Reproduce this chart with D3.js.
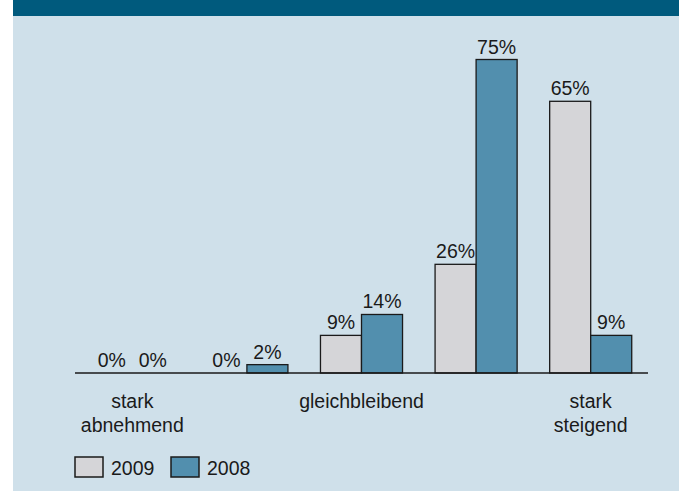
<!DOCTYPE html>
<html>
<head>
<meta charset="utf-8">
<script src="https://cdn.jsdelivr.net/npm/d3@7"></script>
<style>
  html, body { margin: 0; padding: 0; background: #ffffff; }
  svg { display: block; }
  text { font-family: "Liberation Sans", Arial, sans-serif; fill: #1a1a1a; }
</style>
</head>
<body>
<script>
// Survey answers: share of respondents per category, two survey years
const categories = ["stark abnehmend", "abnehmend", "gleichbleibend", "steigend", "stark steigend"];
const categoryLabels = [["stark", "abnehmend"], [], ["gleichbleibend"], [], ["stark", "steigend"]];
const seriesNames = ["2009", "2008"];
const values2009 = [0, 0, 9, 26, 65];
const values2008 = [0, 2, 14, 75, 9];
const seriesColors = ["#d5d5d8", "#528fae"];

const W = 689, H = 491;
const FS = 19.5;
const svg = d3.select("body").append("svg").attr("width", W).attr("height", H);

// panel background and header band
svg.append("rect").attr("x", 13).attr("y", 0).attr("width", 666).attr("height", H).attr("fill", "#cfe0ea");
svg.append("rect").attr("x", 13).attr("y", 0).attr("width", 666).attr("height", 16).attr("fill", "#005a7d");

const x0 = d3.scaleBand().domain(categories).range([75, 648]).paddingInner(0.284).paddingOuter(0.142);
const x1 = d3.scaleBand().domain(seriesNames).range([0, x0.bandwidth()]);
const y = d3.scaleLinear().domain([0, 75]).range([373, 59.5]);

const series = [values2009, values2008];
const rows = [];
categories.forEach((c, i) => {
  seriesNames.forEach((s, j) => rows.push({ cat: c, s, j, v: series[j][i] }));
});

const bars = svg.append("g");
bars.selectAll("rect").data(rows.filter(d => d.v > 0)).join("rect")
  .attr("x", d => x0(d.cat) + x1(d.s))
  .attr("y", d => y(d.v))
  .attr("width", x1.bandwidth())
  .attr("height", d => y(0) - y(d.v))
  .attr("fill", d => seriesColors[d.j])
  .attr("stroke", "#1a1a1a")
  .attr("stroke-width", 1.3);

// value labels
svg.append("g").selectAll("text").data(rows).join("text")
  .attr("x", d => x0(d.cat) + x1(d.s) + x1.bandwidth() / 2)
  .attr("y", d => y(d.v) - 6)
  .attr("text-anchor", "middle")
  .attr("font-size", FS)
  .text(d => d.v + "%");

// baseline
svg.append("line")
  .attr("x1", 75).attr("x2", 648)
  .attr("y1", y(0)).attr("y2", y(0))
  .attr("stroke", "#1a1a1a").attr("stroke-width", 1.3);

// category labels
const catG = svg.append("g").selectAll("text").data(categories).join("text")
  .attr("x", (d) => x0(d) + x0.bandwidth() / 2)
  .attr("y", 408)
  .attr("text-anchor", "middle")
  .attr("font-size", FS);
catG.selectAll("tspan").data((d, i) => categoryLabels[i]).join("tspan")
  .attr("x", function () { return d3.select(this.parentNode).attr("x"); })
  .attr("dy", (d, k) => k === 0 ? 0 : 24)
  .text(d => d);

// legend
const legend = svg.append("g").selectAll("g").data(seriesNames).join("g")
  .attr("transform", (d, i) => `translate(${75 + i * 96},457)`);
legend.append("rect")
  .attr("width", 28).attr("height", 20)
  .attr("fill", (d, i) => seriesColors[i])
  .attr("stroke", "#1a1a1a").attr("stroke-width", 1.5);
legend.append("text")
  .attr("x", 36).attr("y", 18)
  .attr("font-size", FS)
  .text(d => d);
</script>
</body>
</html>
